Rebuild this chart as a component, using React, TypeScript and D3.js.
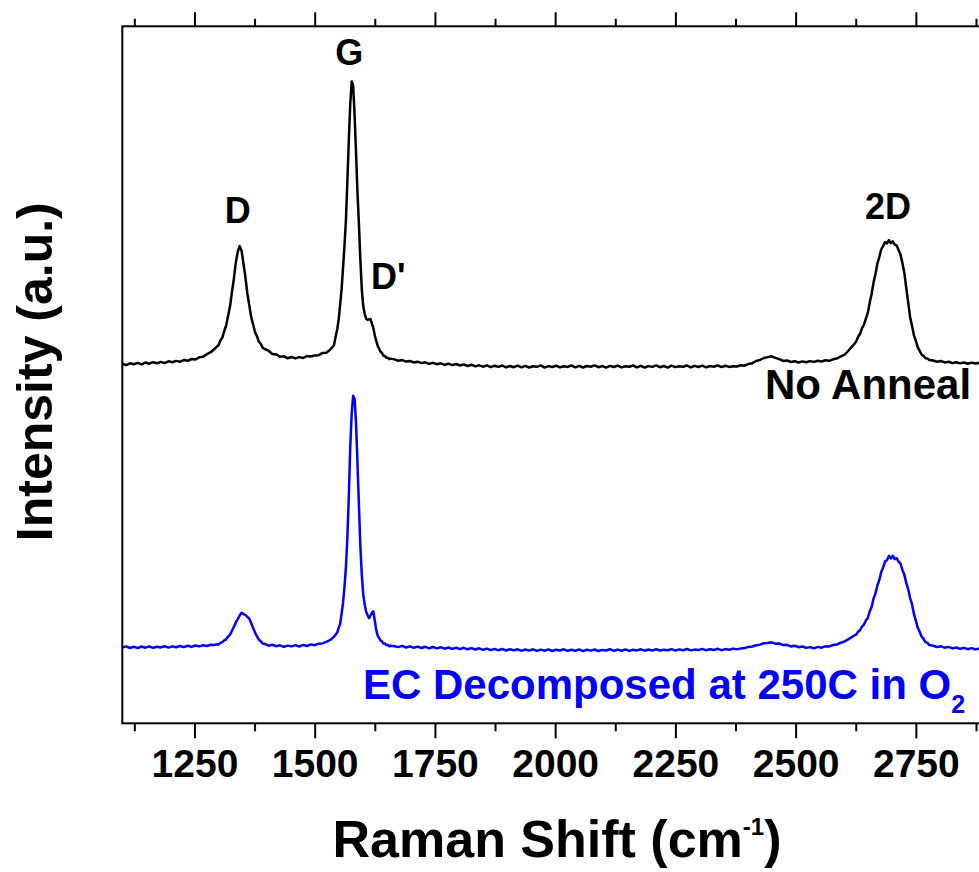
import React, { useEffect, useRef } from "react";
import * as d3 from "d3";

// Raman shift sampling points (cm^-1), shared by both spectra
const WAVENUMBER = [
  1100, 1108, 1116, 1124, 1132, 1140, 1148, 1156, 1164, 1172, 1180, 1188, 1196, 1204, 1212, 1220, 1228, 1236, 1244, 1252, 1260, 1268, 1276, 1284, 1292,
  1296, 1300, 1304, 1308, 1312, 1316, 1320, 1324, 1328, 1332, 1336, 1340, 1344, 1348, 1352, 1356, 1360, 1364, 1368, 1372, 1376, 1380, 1384, 1388, 1392, 1396,
  1404, 1412, 1420, 1428, 1436, 1444, 1452, 1460, 1468, 1476, 1484, 1492, 1500, 1508, 1516, 1524, 1532, 1540,
  1544, 1547, 1550, 1553, 1556, 1559, 1562, 1565, 1568, 1571,
  1574, 1577, 1580, 1583, 1586, 1589, 1592, 1595, 1598, 1601,
  1604, 1607, 1610, 1613, 1616, 1619, 1622, 1625, 1628, 1631,
  1634, 1637, 1640, 1643, 1646, 1649, 1652, 1655, 1658,
  1666, 1674, 1682, 1690, 1698, 1706, 1714, 1722, 1730, 1738,
  1746, 1754, 1762, 1770, 1778, 1786, 1794, 1802, 1810, 1818,
  1826, 1834, 1842, 1850, 1858, 1866, 1874, 1882, 1890, 1898,
  1906, 1914, 1922, 1930, 1938, 1946, 1954, 1962, 1970, 1978,
  1986, 1994, 2002, 2010, 2018, 2026, 2034, 2042, 2050, 2058,
  2066, 2074, 2082, 2090, 2098, 2106, 2114, 2122, 2130, 2138,
  2146, 2154, 2162, 2170, 2178, 2186, 2194, 2202, 2210, 2218,
  2226, 2234, 2242, 2250, 2258, 2266, 2274, 2282, 2290, 2298,
  2306, 2314, 2322, 2330, 2338, 2346, 2354, 2362, 2370, 2378,
  2386, 2394, 2402, 2410, 2418, 2426, 2434, 2442, 2450, 2458,
  2466, 2474, 2482, 2490, 2498, 2506, 2514, 2522, 2530, 2538,
  2546, 2554, 2562, 2570, 2578, 2586, 2594, 2602, 2610, 2618,
  2622, 2626, 2630, 2634, 2638, 2642, 2646, 2650, 2654, 2658,
  2662, 2666, 2670, 2674, 2678, 2682, 2686, 2690, 2694, 2698,
  2702, 2706, 2710, 2714, 2718, 2722, 2726, 2730, 2734, 2738,
  2742, 2746, 2750, 2754, 2758, 2762, 2766, 2770, 2774, 2778,
  2786, 2794, 2802, 2810, 2818, 2826, 2834, 2842, 2850, 2858, 2866, 2874, 2882, 2890,
];

// Intensity (a.u.) of the un-annealed film
const NO_ANNEAL = [
  76.5, 75.2, 77.0, 76.1, 77.4, 75.9, 77.8, 76.6, 78.1, 77.0, 78.4, 77.2, 79.0, 78.1, 79.4, 78.6, 80.2, 79.5, 81.3, 80.8, 83.0, 83.6, 86.2, 88.1, 91.5,
  93.4, 95.1, 99.8, 102.7, 109.3, 114.8, 124.6, 134.0, 148.3, 161.6, 177.9, 188.4, 194.2, 189.6, 176.5, 163.0, 146.8, 135.2, 123.1, 116.0, 108.0, 104.1, 98.5, 96.3, 92.4, 91.3,
  89.6, 86.3, 85.9, 83.5, 84.1, 82.0, 83.3, 81.9, 83.2, 82.3, 84.2, 83.8, 84.9, 85.1, 87.2, 87.6, 90.6, 94.8,
  104.6, 111.3, 121.2, 135.8, 151.4, 172.6, 195.0, 220.4, 259.5, 300.6,
  336.5, 358.8, 354.4, 325.6, 287.3, 247.6, 216.4, 180.3, 150.6, 134.2,
  126.5, 121.6, 120.4, 120.9, 121.3, 116.6, 112.4, 104.7, 99.4, 94.6,
  91.5, 88.6, 87.3, 84.6, 84.4, 82.5, 82.6, 81.1, 81.7,
  80.9, 79.6, 80.2, 78.7, 79.3, 77.9, 78.6, 77.2, 78.0, 76.4,
  77.5, 76.1, 77.0, 75.4, 76.6, 75.2, 76.3, 74.8, 75.9, 74.3,
  75.6, 73.9, 75.0, 73.6, 74.9, 73.2, 74.6, 73.4, 74.8, 72.9,
  74.3, 73.1, 74.7, 73.0, 74.4, 72.8, 74.1, 73.5, 74.9, 72.7,
  74.2, 73.3, 74.6, 72.9, 74.0, 73.4, 74.8, 73.0, 74.5, 72.8,
  74.3, 73.6, 74.9, 73.1, 74.2, 72.7, 74.4, 73.3, 74.7, 72.9,
  74.1, 73.5, 74.8, 73.0, 74.5, 72.8, 74.2, 73.4, 74.9, 73.1,
  74.3, 72.7, 74.6, 73.2, 74.0, 73.5, 74.8, 72.9, 74.4, 73.3,
  74.7, 73.0, 74.2, 73.6, 74.9, 73.2, 74.5, 73.4, 74.1, 73.8,
  75.0, 74.6, 76.4, 77.1, 79.3, 80.4, 82.3, 83.2, 84.0, 82.4,
  81.2, 79.4, 79.9, 78.3, 79.1, 77.8, 78.9, 78.0, 79.2, 78.4,
  79.6, 78.8, 80.1, 79.5, 81.0, 81.8, 83.9, 85.6, 89.8, 94.1,
  96.4, 98.9, 103.6, 106.5, 112.2, 115.4, 121.7, 127.4, 137.6, 146.3,
  157.8, 166.4, 176.7, 183.3, 190.8, 194.4, 198.1, 196.9, 200.2, 197.1,
  199.0, 195.6, 194.8, 190.2, 185.7, 177.4, 167.6, 152.5, 138.2, 123.4,
  114.6, 105.0, 99.5, 93.0, 89.4, 85.6, 84.5, 82.1, 81.9, 80.3,
  79.8, 78.6, 79.3, 77.9, 78.5, 77.2, 78.1, 76.9, 77.8, 76.6, 77.7, 76.8, 77.5, 76.9,
];

// Intensity (a.u.) after EC decomposition at 250C in O2
const EC_O2 = [
  75.8, 76.9, 75.3, 76.6, 75.1, 76.8, 75.6, 77.0, 75.4, 76.5, 75.9, 77.1, 75.7, 76.9, 76.0, 77.3, 76.2, 77.5, 76.4, 77.8, 76.9, 78.1, 77.3, 78.6, 78.2,
  79.0, 78.6, 80.4, 81.1, 82.9, 84.0, 86.8, 88.5, 92.6, 96.4, 100.9, 104.1, 107.8, 110.6, 109.2, 108.4, 106.5, 104.6, 100.2, 95.3, 90.8, 86.9, 83.6, 81.9, 79.7, 79.4,
  77.6, 78.5, 77.1, 78.0, 76.5, 77.7, 76.9, 78.2, 76.8, 78.4, 77.3, 78.9, 78.1, 79.6, 79.9, 81.4, 83.2, 86.5,
  88.9, 91.0, 95.6, 99.4, 109.5, 120.6, 136.4, 156.5, 186.3, 227.6,
  276.4, 310.2, 327.5, 324.6, 300.4, 259.7, 218.3, 176.8, 148.4, 128.6,
  118.9, 111.6, 108.4, 105.1, 107.5, 110.6, 112.0, 102.6, 93.4, 87.6,
  85.3, 82.6, 81.9, 79.7, 79.9, 78.2, 78.4, 77.1, 77.6,
  77.0, 76.2, 77.4, 75.8, 76.9, 75.5, 76.7, 75.3, 76.5, 75.0,
  76.3, 74.9, 76.1, 74.6, 75.8, 74.4, 75.6, 74.2, 75.5, 74.0,
  75.2, 73.8, 75.0, 73.5, 74.7, 73.2, 74.4, 73.0, 74.3, 72.8,
  74.1, 72.9, 74.0, 72.5, 73.8, 72.7, 74.0, 72.4, 73.7, 72.6,
  73.9, 72.3, 73.6, 72.8, 74.0, 72.4, 73.5, 72.6, 73.9, 72.2,
  73.6, 72.7, 73.8, 72.3, 73.4, 72.8, 74.1, 72.5, 73.7, 72.6,
  73.9, 72.4, 73.5, 72.9, 74.0, 72.6, 73.8, 72.7, 74.1, 72.8,
  73.6, 73.0, 74.2, 72.7, 73.9, 73.1, 74.3, 72.9, 73.7, 73.2,
  74.4, 73.0, 74.1, 73.3, 74.5, 73.1, 74.2, 73.6, 74.7, 73.9,
  74.9, 75.2, 76.4, 76.8, 78.0, 78.6, 80.1, 80.4, 81.0, 79.6,
  79.9, 78.2, 78.5, 76.9, 77.6, 76.1, 76.8, 75.4, 76.2, 75.0,
  76.4, 75.6, 77.0, 76.9, 78.3, 78.8, 80.6, 81.9, 84.2, 86.5,
  87.9, 88.6, 91.7, 93.0, 96.8, 98.5, 102.9, 105.4, 111.8, 116.4,
  124.7, 129.9, 137.8, 143.3, 151.2, 155.8, 162.0, 163.1, 167.4, 164.9,
  167.6, 164.2, 165.1, 161.6, 159.8, 153.3, 148.7, 140.4, 134.2, 125.3,
  119.1, 109.4, 102.6, 95.5, 91.4, 86.6, 84.5, 81.1, 80.4, 78.2,
  77.6, 76.3, 77.0, 75.6, 76.4, 74.9, 75.8, 74.4, 75.5, 74.1, 75.2, 73.8, 74.9, 73.6,
];

// Vertical stacking offset for the upper spectrum
const NO_ANNEAL_OFFSET = 283;

const X_DOMAIN = [1100, 3000];
const Y_DOMAIN = [0, 697];
const X_MAJOR_TICKS = [1250, 1500, 1750, 2000, 2250, 2500, 2750];
const X_MINOR_TICKS = [1125, 1375, 1625, 1875, 2125, 2375, 2625, 2875];

// Band names and the Raman shift each label sits over
const BAND_NAMES = ["D", "G", "D'", "2D"];
const BAND_SHIFTS = [1340, 1572, 1617, 2692];

const FONT = "'Liberation Sans', Arial, Helvetica, sans-serif";
const BLUE = "#0000ff";

const W = 979;
const H = 872;
const LEFT = 122.3;
const TOP = 26.3;
const BOTTOM = 723.3;
const RIGHT = 1036.1;

export default function App() {
  const topAxisRef = useRef<SVGGElement>(null);
  const topMinorRef = useRef<SVGGElement>(null);
  const bottomAxisRef = useRef<SVGGElement>(null);
  const bottomMinorRef = useRef<SVGGElement>(null);

  const x = d3.scaleLinear().domain(X_DOMAIN).range([LEFT, RIGHT]);
  const y = d3.scaleLinear().domain(Y_DOMAIN).range([BOTTOM, TOP]);

  const line = d3
    .line<[number, number]>()
    .x((d) => x(d[0]))
    .y((d) => y(d[1]));

  const upper = d3.zip(
    WAVENUMBER,
    NO_ANNEAL.map((v) => v + NO_ANNEAL_OFFSET)
  ) as [number, number][];
  const lower = d3.zip(WAVENUMBER, EC_O2) as [number, number][];

  useEffect(() => {
    const style = (g: d3.Selection<SVGGElement, unknown, null, undefined>) => {
      g.select(".domain").remove();
      g.selectAll(".tick line").attr("stroke", "#000").attr("stroke-width", 2);
    };

    d3.select(topAxisRef.current!)
      .call(d3.axisTop(x).tickValues(X_MAJOR_TICKS).tickSize(14).tickFormat(() => ""))
      .call(style);
    d3.select(topMinorRef.current!)
      .call(d3.axisTop(x).tickValues(X_MINOR_TICKS).tickSize(7.5).tickFormat(() => ""))
      .call(style);
    d3.select(bottomMinorRef.current!)
      .call(d3.axisBottom(x).tickValues(X_MINOR_TICKS).tickSize(8).tickFormat(() => ""))
      .call(style);

    const bottom = d3
      .select(bottomAxisRef.current!)
      .call(
        d3
          .axisBottom(x)
          .tickValues(X_MAJOR_TICKS)
          .tickSize(15)
          .tickPadding(11)
          .tickFormat(d3.format("d"))
      )
      .call(style);
    bottom
      .selectAll(".tick text")
      .attr("fill", "#000")
      .attr("font-family", FONT)
      .attr("font-weight", "bold")
      .attr("font-size", 39);
    bottom.attr("font-family", null).attr("font-size", null);
  }, []);

  const labelY = [223, 65, 289, 219];
  const labelAnchor = ["middle", "middle", "start", "middle"];

  return (
    <svg
      width={W}
      height={H}
      style={{ position: "absolute", left: 0, top: 0, background: "#fff" }}
      fontFamily={FONT}
    >
      <rect x={0} y={0} width={W} height={H} fill="#fff" />

      {/* spectra */}
      <path d={line(upper) || ""} fill="none" stroke="#000" strokeWidth={2.5} strokeLinejoin="round" />
      <path d={line(lower) || ""} fill="none" stroke={BLUE} strokeWidth={2.5} strokeLinejoin="round" />

      {/* frame */}
      <rect
        x={LEFT}
        y={TOP}
        width={RIGHT - LEFT}
        height={BOTTOM - TOP}
        fill="none"
        stroke="#000"
        strokeWidth={2}
      />
      <g ref={topAxisRef} transform={`translate(0,${TOP})`} />
      <g ref={topMinorRef} transform={`translate(0,${TOP})`} />
      <g ref={bottomAxisRef} transform={`translate(0,${BOTTOM})`} />
      <g ref={bottomMinorRef} transform={`translate(0,${BOTTOM})`} />

      {/* band labels */}
      {BAND_NAMES.map((name, i) => (
        <text
          key={name}
          x={x(BAND_SHIFTS[i])}
          y={labelY[i]}
          textAnchor={labelAnchor[i] as any}
          fontSize={36}
          fontWeight="bold"
          fill="#000"
        >
          {name}
        </text>
      ))}

      {/* series names */}
      <text x={765} y={399} fontSize={42} fontWeight="bold" fill="#000">
        No Anneal
      </text>
      <text x={363} y={699} fontSize={42} fontWeight="bold" fill={BLUE}>
        EC Decomposed at 250C in O
        <tspan fontSize={25} dy={14}>
          2
        </tspan>
      </text>

      {/* axis titles */}
      <text
        transform={`translate(52,${371.7}) rotate(-90)`}
        textAnchor="middle"
        fontSize={50}
        fontWeight="bold"
        fill="#000"
      >
        Intensity (a.u.)
      </text>
      <text x={557} y={857} textAnchor="middle" fontSize={52} fontWeight="bold" fill="#000">
        Raman Shift (cm
        <tspan fontSize={24} dy={-22}>
          -1
        </tspan>
        <tspan dy={22}>)</tspan>
      </text>
    </svg>
  );
}
